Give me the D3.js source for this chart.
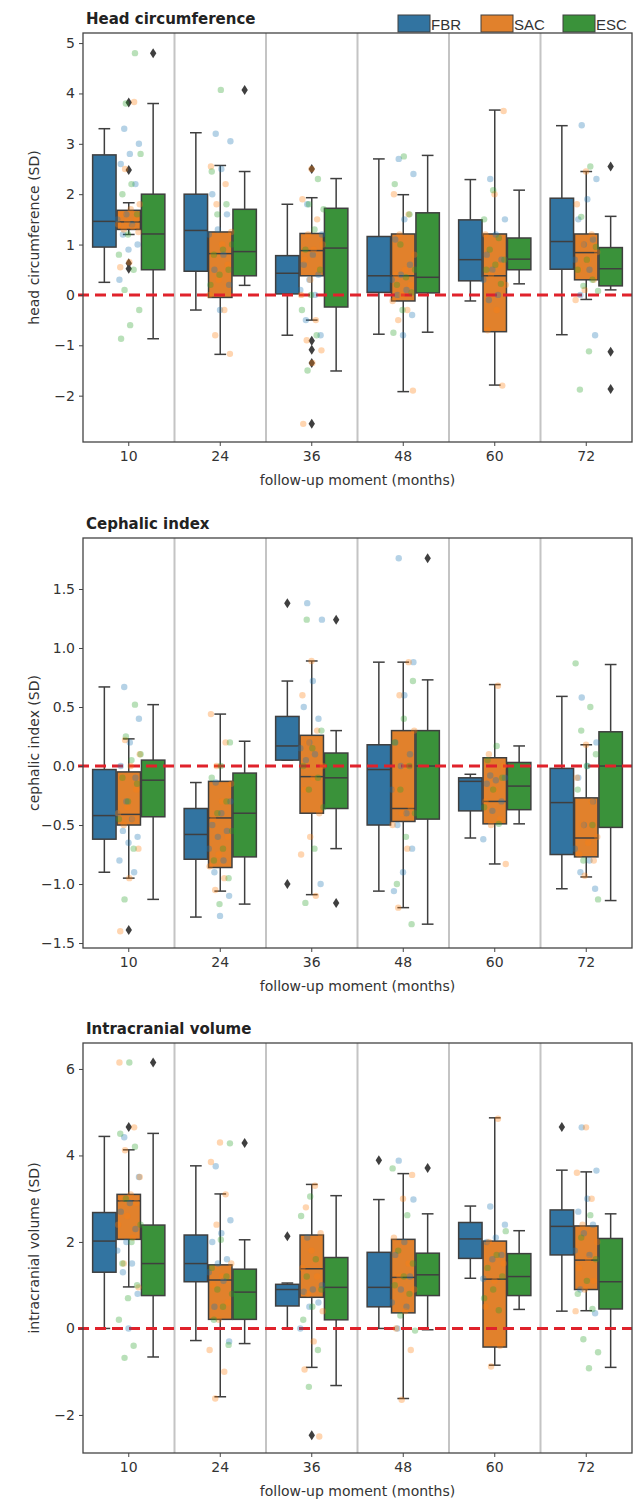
<!DOCTYPE html>
<html><head><meta charset="utf-8">
<script src="https://cdn.jsdelivr.net/npm/d3@7"></script>
<style>body{margin:0;background:#fff;} svg{display:block;font-family:"DejaVu Sans",sans-serif;}</style>
</head><body><svg id="chart" width="635" height="1506"></svg>
<script>
const categories = ["10","24","36","48","60","72"];
const groups = ["FBR","SAC","ESC"];
const boxColors = ["#3274a1","#e1812c","#3a923a"];
const pointColors = ["#1f77b4","#ff7f0e","#2ca02c"];

// ---------- Head circumference: box stats [lowWhisker, q1, median, q3, highWhisker] per category
const hcBoxFBR = [[0.25,0.95,1.46,2.78,3.3],[-0.3,0.47,1.28,2.0,3.22],[-0.8,0.02,0.43,0.78,1.8],[-0.78,0.05,0.38,1.16,2.7],[-0.12,0.28,0.7,1.49,2.29],[-0.79,0.51,1.06,1.92,3.36]];
const hcBoxSAC = [[1.2,1.3,1.45,1.68,1.83],[-1.18,-0.05,0.82,1.25,2.57],[-0.5,0.38,0.88,1.22,1.93],[-1.92,-0.12,0.38,1.21,1.99],[-1.79,-0.73,0.38,1.21,3.67],[-0.09,0.3,0.84,1.21,2.45]];
const hcBoxESC = [[-0.87,0.5,1.21,2.0,3.8],[0.19,0.38,0.86,1.7,2.45],[-1.51,-0.24,0.93,1.72,2.31],[-0.74,0.04,0.35,1.63,2.77],[0.22,0.5,0.71,1.13,2.08],[0.1,0.18,0.52,0.94,1.56]];
const hcFliers = [[0,1,3.82],[0,1,2.48],[0,1,0.63],[0,1,0.52],[0,2,4.8],[1,2,4.07],[2,1,2.5],[2,1,-0.91],[2,1,-1.09],[2,1,-1.35],[2,1,-2.56],[5,2,2.55],[5,2,-1.13],[5,2,-1.87]];
const hcPtsFBR = [[3.3,3.0,2.8,2.6,2.2,1.6,1.5,1.4,1.2,1.0,0.9,0.3],[3.2,3.05,2.5,2.0,1.6,1.3,1.2,0.8,0.5,0.2,-0.3],[1.8,1.2,0.8,0.6,0.4,0.3,0.1,0.0,-0.5,-0.8],[2.7,2.4,1.5,1.1,0.6,0.4,0.3,0.1,0.0,-0.4,-0.8],[2.3,1.5,1.2,0.8,0.7,0.5,0.3,0.0,-0.1],[3.37,2.3,1.9,1.5,1.1,1.0,0.7,0.5,0.0,-0.8]];
const hcPtsSAC = [[3.83,2.5,1.8,1.7,1.6,1.5,1.45,1.4,1.35,1.3,1.25,0.65,0.55],[2.55,2.2,1.8,1.25,1.0,0.8,0.6,0.3,0.0,-0.3,-0.8,-1.17],[2.5,1.9,1.5,1.2,1.0,0.9,0.7,0.5,0.3,0.0,-0.5,-0.9,-1.1,-1.35,-2.56],[2.0,1.6,1.2,0.8,0.5,0.4,0.2,0.0,-0.12,-0.3,-0.5,-1.9],[3.65,2.0,1.2,0.6,0.4,0.2,-0.3,-0.7,-1.8],[2.45,1.8,1.2,1.0,0.85,0.7,0.5,0.3,0.1,-0.1]];
const hcPtsESC = [[4.8,3.8,2.8,2.2,2.0,1.6,1.2,0.8,0.5,0.1,-0.3,-0.6,-0.87],[4.07,2.45,1.8,1.6,1.0,0.9,0.8,0.5,0.4,0.2],[2.3,1.8,1.7,1.3,0.9,0.5,0.0,-0.3,-0.8,-1.5],[2.75,2.2,1.6,1.0,0.5,0.35,0.2,0.05,-0.3,-0.75],[2.08,1.5,1.13,0.9,0.7,0.6,0.5,0.22],[2.55,1.55,0.95,0.7,0.5,0.3,0.18,0.08,-1.12,-1.88]];

// ---------- Cephalic index
const ciBoxFBR = [[-0.9,-0.62,-0.42,-0.03,0.67],[-1.28,-0.79,-0.58,-0.36,-0.14],[0.05,0.05,0.17,0.42,0.72],[-1.06,-0.5,-0.03,0.18,0.88],[-0.61,-0.38,-0.13,-0.1,-0.07],[-1.04,-0.75,-0.31,-0.02,0.59]];
const ciBoxSAC = [[-0.95,-0.5,-0.41,-0.05,0.23],[-1.06,-0.86,-0.44,-0.13,0.44],[-1.09,-0.4,-0.09,0.26,0.89],[-1.2,-0.47,-0.36,0.3,0.88],[-0.83,-0.49,-0.3,0.07,0.69],[-0.94,-0.77,-0.61,-0.27,0.18]];
const ciBoxESC = [[-1.13,-0.43,-0.12,0.05,0.52],[-1.17,-0.77,-0.4,-0.06,0.21],[-0.7,-0.36,-0.1,0.11,0.3],[-1.34,-0.45,0.0,0.3,0.73],[-0.49,-0.37,-0.17,0.03,0.17],[-1.14,-0.52,0.0,0.29,0.86]];
const ciFliers = [[0,1,-1.39],[2,0,1.38],[2,0,-1.0],[2,2,1.24],[2,2,-1.16],[3,2,1.76]];
const ciPtsFBR = [[0.67,0.4,0.2,0.0,-0.1,-0.3,-0.4,-0.45,-0.55,-0.6,-0.65,-0.8,-0.9],[-0.14,-0.3,-0.4,-0.5,-0.55,-0.6,-0.7,-0.8,-0.9,-1.1,-1.27],[1.38,1.24,0.72,0.5,0.4,0.2,0.15,0.1,0.05,-1.0],[1.76,0.88,0.6,0.2,0.1,0.0,-0.2,-0.4,-0.5,-0.7,-0.9,-1.06],[-0.08,-0.1,-0.12,-0.15,-0.3,-0.38,-0.62],[0.58,0.2,0.0,-0.1,-0.3,-0.5,-0.7,-0.8,-0.9,-1.04]];
const ciPtsSAC = [[0.22,0.1,0.0,-0.1,-0.2,-0.35,-0.4,-0.45,-0.5,-0.7,-0.95,-1.4],[0.44,0.2,0.0,-0.15,-0.3,-0.45,-0.6,-0.75,-0.85,-0.95,-1.05],[0.89,0.6,0.3,0.2,0.0,-0.1,-0.2,-0.4,-0.6,-0.75,-1.1],[0.88,0.6,0.3,0.0,-0.2,-0.35,-0.4,-0.5,-0.7,-1.2],[0.68,0.1,0.0,-0.2,-0.3,-0.45,-0.5,-0.83],[0.18,-0.1,-0.3,-0.5,-0.6,-0.65,-0.75,-0.8,-0.93]];
const ciPtsESC = [[0.52,0.25,0.1,0.05,-0.1,-0.15,-0.3,-0.45,-0.7,-1.13],[0.2,0.0,-0.1,-0.3,-0.4,-0.55,-0.7,-0.8,-0.95,-1.17],[1.24,0.3,0.15,0.0,-0.1,-0.2,-0.35,-0.7,-1.16],[0.72,0.4,0.2,0.0,-0.2,-0.4,-0.6,-1.0,-1.34],[0.17,0.05,-0.1,-0.2,-0.35,-0.49],[0.87,0.5,0.3,0.1,0.0,-0.2,-0.5,-0.8,-1.13]];

// ---------- Intracranial volume
const icvBoxFBR = [[0.0,1.3,2.02,2.68,4.44],[-0.28,1.08,1.5,2.16,3.76],[0.0,0.52,0.9,1.02,1.05],[0.0,0.5,0.95,1.76,2.98],[1.16,1.62,2.07,2.45,2.83],[0.4,1.7,2.36,2.74,3.66]];
const icvBoxSAC = [[0.96,2.06,2.95,3.1,4.13],[-1.58,0.21,1.12,1.47,3.11],[-0.9,0.72,1.38,2.16,3.33],[-1.62,0.36,1.18,2.06,3.58],[-0.85,-0.43,1.14,2.02,4.87],[0.41,0.9,1.58,2.37,3.62]];
const icvBoxESC = [[-0.66,0.76,1.5,2.39,4.51],[-0.35,0.21,0.84,1.37,2.05],[-1.32,0.2,0.95,1.64,3.07],[-0.03,0.76,1.24,1.74,2.65],[0.44,0.76,1.2,1.73,2.26],[-0.9,0.45,1.08,2.08,2.65]];
const icvFliers = [[0,1,4.66],[0,2,6.15],[1,2,4.29],[2,0,2.13],[2,1,-2.47],[3,0,3.89],[3,2,3.71],[5,0,4.66]];
const icvPtsFBR = [[4.42,3.5,2.9,2.7,2.3,2.0,1.8,1.5,1.3,0.8,0.0],[3.75,2.5,2.2,2.0,1.6,1.5,1.3,1.1,0.5,-0.3],[2.1,1.0,0.9,0.85,0.6,0.5,0.0],[3.88,2.98,2.0,1.7,1.2,0.9,0.6,0.5,0.0],[2.82,2.4,2.1,2.0,1.7,1.6,1.15],[4.65,3.65,3.0,2.7,2.4,2.2,1.8,1.7,0.9,0.35]];
const icvPtsSAC = [[6.15,4.65,4.12,3.5,3.1,3.0,2.9,2.6,2.4,2.1,1.5,0.95],[4.3,3.85,3.1,2.4,1.5,1.2,1.0,0.6,0.2,-0.5,-1.0,-1.62],[3.3,2.8,2.2,1.8,1.4,1.2,0.8,0.4,-0.3,-0.95,-2.5],[3.55,3.0,2.1,1.5,1.2,0.9,0.4,0.0,-0.5,-1.65],[4.85,2.0,1.5,1.1,0.5,-0.4,-0.88],[4.65,3.6,3.0,2.4,2.0,1.6,1.4,1.1,0.9,0.4]];
const icvPtsESC = [[6.15,4.5,4.2,3.0,2.4,2.0,1.5,1.0,0.7,0.2,-0.4,-0.68],[4.28,2.05,1.4,1.2,0.9,0.8,0.5,0.2,-0.38],[3.05,2.6,1.6,1.2,0.9,0.5,0.2,-0.5,-1.35],[3.7,2.62,1.8,1.5,1.2,1.0,0.8,0.3,-0.05],[2.25,1.7,1.4,1.2,0.9,0.7,0.42],[2.62,2.1,1.6,1.1,0.8,0.45,-0.25,-0.55,-0.92]];

const hcTicks = [-2,-1,0,1,2,3,4,5];
const ciTicks = [-1.5,-1.0,-0.5,0.0,0.5,1.0,1.5];
const icvTicks = [-2,0,2,4,6];

const panels = [
  {title:"Head circumference", ylabel:"head circumference (SD)", top:33, bottom:442, domain:[-2.92,5.2], ticks:hcTicks, fmt:d=>d3.format("d")(d),
   boxes:[hcBoxFBR,hcBoxSAC,hcBoxESC], pts:[hcPtsFBR,hcPtsSAC,hcPtsESC], fliers:hcFliers, legend:true},
  {title:"Cephalic index", ylabel:"cephalic index (SD)", top:538, bottom:948, domain:[-1.542,1.932], ticks:ciTicks, fmt:d=>d3.format(".1f")(d),
   boxes:[ciBoxFBR,ciBoxSAC,ciBoxESC], pts:[ciPtsFBR,ciPtsSAC,ciPtsESC], fliers:ciFliers, legend:false},
  {title:"Intracranial volume", ylabel:"intracranial volume (SD)", top:1043, bottom:1453, domain:[-2.88,6.6], ticks:icvTicks, fmt:d=>d3.format("d")(d),
   boxes:[icvBoxFBR,icvBoxSAC,icvBoxESC], pts:[icvPtsFBR,icvPtsSAC,icvPtsESC], fliers:icvFliers, legend:false}
];

const svg = d3.select("#chart");
const left = 83, right = 632;
const lineCol = "#3f3f3f";
const x = d3.scaleBand().domain(categories).range([left, right]).paddingInner(0).paddingOuter(0);
const bw = x.bandwidth();
const hueW = bw * 0.8 / 3;
const boxW = hueW * 0.96;
const capW = boxW * 0.5;
const gx = (ci, g) => x(categories[ci]) + bw/2 + (g-1)*hueW;

panels.forEach(p => {
  const y = d3.scaleLinear().domain(p.domain).range([p.bottom, p.top]);
  const g = svg.append("g");
  // separators
  categories.slice(1).forEach(c => {
    g.append("line").attr("x1", x(c)).attr("x2", x(c)).attr("y1", p.top).attr("y2", p.bottom)
      .attr("stroke", "#c4c4c4").attr("stroke-width", 2);
  });
  // boxes
  p.boxes.forEach((arr, gi) => {
    arr.forEach((s, ci) => {
      const cx = gx(ci, gi);
      const [lo, q1, med, q3, hi] = s;
      const bg = g.append("g");
      bg.append("line").attr("x1", cx).attr("x2", cx).attr("y1", y(q3)).attr("y2", y(hi)).attr("stroke", lineCol).attr("stroke-width", 1.5);
      bg.append("line").attr("x1", cx).attr("x2", cx).attr("y1", y(q1)).attr("y2", y(lo)).attr("stroke", lineCol).attr("stroke-width", 1.5);
      bg.append("line").attr("x1", cx-capW/2).attr("x2", cx+capW/2).attr("y1", y(hi)).attr("y2", y(hi)).attr("stroke", lineCol).attr("stroke-width", 1.5);
      bg.append("line").attr("x1", cx-capW/2).attr("x2", cx+capW/2).attr("y1", y(lo)).attr("y2", y(lo)).attr("stroke", lineCol).attr("stroke-width", 1.5);
      bg.append("rect").attr("x", cx-boxW/2).attr("width", boxW).attr("y", y(q3)).attr("height", Math.max(0.5, y(q1)-y(q3)))
        .attr("fill", boxColors[gi]).attr("stroke", lineCol).attr("stroke-width", 1.5);
      bg.append("line").attr("x1", cx-boxW/2).attr("x2", cx+boxW/2).attr("y1", y(med)).attr("y2", y(med)).attr("stroke", lineCol).attr("stroke-width", 1.5);
    });
  });
  // fliers (diamonds)
  p.fliers.forEach(([ci, gi, v]) => {
    const cx = gx(ci, gi), cy = y(v);
    g.append("path").attr("d", `M${cx},${cy-5}L${cx+3.2},${cy}L${cx},${cy+5}L${cx-3.2},${cy}Z`).attr("fill", lineCol);
  });
  // zero line
  g.append("line").attr("x1", left-5).attr("x2", right).attr("y1", y(0)).attr("y2", y(0))
    .attr("stroke", "#e0222b").attr("stroke-width", 3).attr("stroke-dasharray", "11,6");
  // strip points
  categories.forEach((c, ci) => {
    let k = 0;
    p.pts.forEach((arr, gi) => {
      arr[ci].forEach(v => {
        const jit = (((k * 0.6180339887) + 0.31) % 1 - 0.5) * bw * 0.26;
        k++;
        g.append("circle").attr("cx", x(c) + bw/2 + jit).attr("cy", y(v)).attr("r", 3.2)
          .attr("fill", pointColors[gi]).attr("fill-opacity", 0.33);
      });
    });
  });
  // frame
  g.append("rect").attr("x", left).attr("y", p.top).attr("width", right-left).attr("height", p.bottom-p.top)
    .attr("fill", "none").attr("stroke", "#444").attr("stroke-width", 1.3);
  // axes
  const ya = d3.axisLeft(y).tickValues(p.ticks).tickFormat(d => p.fmt(d).replace("-", "\u2212")).tickSize(4).tickPadding(4);
  const yg = g.append("g").attr("transform", `translate(${left},0)`).call(ya);
  yg.select(".domain").remove();
  yg.selectAll("text").attr("font-size", 14).attr("fill", "#333").attr("font-family", "DejaVu Sans");
  yg.selectAll("line").attr("stroke", "#444");
  const xa = d3.axisBottom(x).tickSize(4).tickPadding(5);
  const xg = g.append("g").attr("transform", `translate(0,${p.bottom})`).call(xa);
  xg.select(".domain").remove();
  xg.selectAll("text").attr("font-size", 14).attr("fill", "#333").attr("font-family", "DejaVu Sans");
  xg.selectAll("line").attr("stroke", "#444");
  // labels
  g.append("text").attr("x", (left+right)/2).attr("y", p.bottom + 43).attr("text-anchor", "middle")
    .attr("font-size", 14).attr("fill", "#333").text("follow-up moment (months)");
  g.append("text").attr("transform", `translate(39,${(p.top+p.bottom)/2}) rotate(-90)`).attr("text-anchor", "middle")
    .attr("font-size", 14).attr("fill", "#333").text(p.ylabel);
  g.append("text").attr("x", 86).attr("y", p.top - 9).attr("font-size", 15).attr("font-weight", "bold").attr("fill", "#222").text(p.title);
  if (p.legend) {
    const lx = [398, 481, 563];
    groups.forEach((name, gi) => {
      g.append("rect").attr("x", lx[gi]).attr("y", 15).attr("width", 32).attr("height", 17).attr("fill", boxColors[gi]).attr("stroke", lineCol).attr("stroke-width", 1);
      g.append("text").attr("x", lx[gi] + 33).attr("y", 30).attr("font-size", 15).attr("font-family", "Liberation Sans, Arial, sans-serif").attr("fill", "#333").text(name);
    });
  }
});
</script></body></html>
